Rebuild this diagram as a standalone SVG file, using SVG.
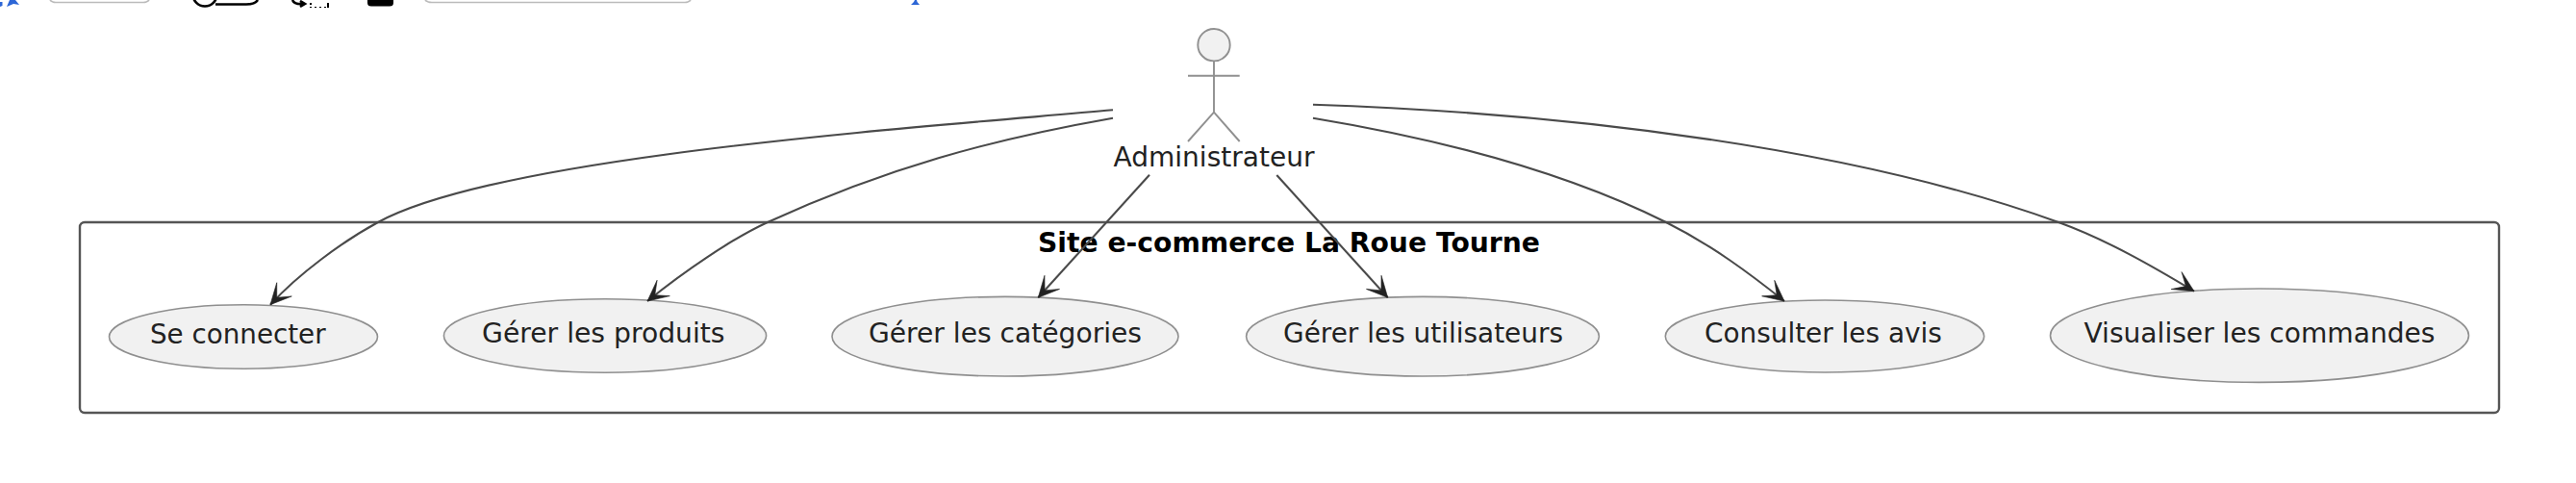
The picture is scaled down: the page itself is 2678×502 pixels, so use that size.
<svg xmlns="http://www.w3.org/2000/svg" width="2678" height="502" viewBox="0 0 2678 502">
<style>
text{font-family:"DejaVu Sans",sans-serif;fill:#222}
.uc ellipse{fill:#f1f1f1;stroke:#8f8f8f;stroke-width:1.6}
.uc text{font-size:28px;text-anchor:middle}
.act *{stroke:#909090;stroke-width:1.9;fill:none}
.link{fill:none;stroke:#4a4a4a;stroke-width:2.1;marker-end:url(#ah)}
.card{fill:none;stroke:#555;stroke-width:2.4}
.crumb{fill:none;stroke:#000;stroke-width:2.6}
</style>
<defs>
<marker id="ah" markerUnits="userSpaceOnUse" markerWidth="30" markerHeight="30" refX="24" refY="12" orient="auto" overflow="visible">
<path d="M24,12L2.500,1.500L14,12L2.500,22.500Z" fill="#222" stroke="#222" stroke-width="0.6"/>
</marker>
</defs>
<rect width="2678" height="502" fill="#fff"/>
<g id="top-fragments">
<path d="M0,2L2.5,2L2.5,6L0,7ZM10,0L16,0L20,5L14,4L7,7Z" fill="#2d66d6"/>
<path d="M52,0Q54,2.5 58,2.5L149,2.5Q153,2.5 155,0" fill="#fff" stroke="#bbb" stroke-width="1.6"/>
<circle class="crumb" cx="213" cy="-6" r="12.5"/>
<path class="crumb" d="M224,4.5L256,4.5Q265,4.5 268,0"/>
<path class="crumb" d="M304,0Q306,5 316,4M312,1L317,4L312,7" stroke-width="2"/>
<path d="M322,3h2v2h-2ZM322,7h2v1h-2ZM327,7h2v1h-2ZM332,7h2v1h-2ZM337,7h2v1h-2ZM340,3h2v5h-2Z" fill="#000"/>
<path d="M382,0L409,0L409,3Q409,6.500 405,6.500L386,6.500Q382,6.500 382,3Z" fill="#000"/>
<path d="M442,0Q444,2.500 449,2.500L712,2.500Q716,2.500 718,0" fill="#fff" stroke="#bbb" stroke-width="1.6"/>
<path d="M951,0L953,0L953.500,2L956,5L947,5L950,2Z" fill="#2d66d6"/>
</g>
<g id="system">
<rect class="card" x="83" y="231" width="2515" height="198" rx="5" ry="5"/>
</g>
<g id="uc1" class="uc"><ellipse cx="253" cy="350" rx="139.500" ry="33.300"/><text x="247.300" y="357" textLength="182.600" lengthAdjust="spacingAndGlyphs">Se connecter</text></g>
<g id="uc2" class="uc"><ellipse cx="629" cy="349" rx="167.600" ry="38.300"/><text x="627.300" y="356" textLength="252.500" lengthAdjust="spacingAndGlyphs">Gérer les produits</text></g>
<g id="uc3" class="uc"><ellipse cx="1045" cy="349.700" rx="180" ry="41.300"/><text x="1045" y="356" textLength="284" lengthAdjust="spacingAndGlyphs">Gérer les catégories</text></g>
<g id="uc4" class="uc"><ellipse cx="1479" cy="349.700" rx="183.400" ry="41.300"/><text x="1479.500" y="356" textLength="291" lengthAdjust="spacingAndGlyphs">Gérer les utilisateurs</text></g>
<g id="uc5" class="uc"><ellipse cx="1897" cy="349.500" rx="165.700" ry="37.500"/><text x="1895.400" y="356" textLength="247" lengthAdjust="spacingAndGlyphs">Consulter les avis</text></g>
<g id="uc6" class="uc"><ellipse cx="2349" cy="348.700" rx="217.500" ry="48.700"/><text x="2349" y="356" textLength="365" lengthAdjust="spacingAndGlyphs">Visualiser les commandes</text></g>
<g id="admin" class="act">
<circle cx="1262" cy="46.700" r="16.700" style="fill:#f1f1f1"/>
<path d="M1262,63.400V116.700M1235,78.700H1288.700M1235,147L1262,116.700L1288.700,147"/>
<text x="1262" y="173.300" textLength="209" lengthAdjust="spacingAndGlyphs" style="font-size:28px;text-anchor:middle;fill:#222;stroke:none">Administrateur</text>
</g>
<text id="system-title" x="1340" y="261.700" textLength="522" lengthAdjust="spacingAndGlyphs" style="font-size:28px;font-weight:bold;text-anchor:middle;fill:#000">Site e-commerce La Roue Tourne</text>
<g id="connectors">
<path class="link" d="M1157,114.300C950,133 520,162 393,231C356,251 310,285 281,316.700"/>
<path class="link" d="M1157,122.700C1030,145 920,175 798,231C760,248.500 710,283 673,313"/>
<path class="link" d="M1195,181.700L1079.300,309.300"/>
<path class="link" d="M1327.300,182L1442.700,309.300"/>
<path class="link" d="M1365,122.700C1530,150 1650,190 1732,231C1780,255 1820,285 1855,313"/>
<path class="link" d="M1365,108.700C1640,118 1930,155 2140,231C2190,249 2240,278 2281,302.700"/>
</g>
</svg>
